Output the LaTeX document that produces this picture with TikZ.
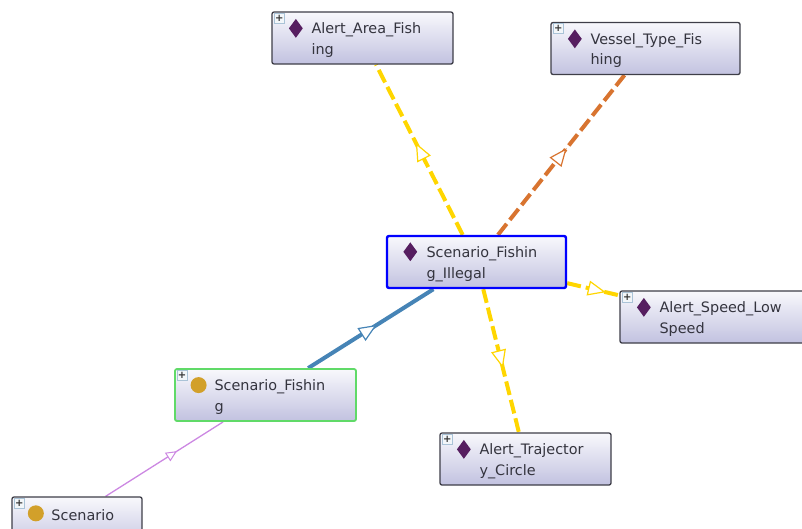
\documentclass[tikz,border=0pt]{standalone}
\usepackage{fontspec}
\setmainfont{DejaVu Sans}
\usetikzlibrary{arrows.meta,backgrounds,decorations.markings,shapes.geometric}
\definecolor{boxtop}{RGB}{248,248,252}
\definecolor{boxbottom}{RGB}{194,194,224}
\definecolor{boxline}{RGB}{62,62,72}
\definecolor{boxtext}{RGB}{52,52,62}
\definecolor{plusline}{RGB}{170,195,215}
\definecolor{indcolor}{RGB}{86,30,96}
\definecolor{classcolor}{RGB}{210,160,42}
\definecolor{greenline}{RGB}{96,218,104}
\definecolor{lineyellow}{RGB}{255,214,0}
\definecolor{lineorange}{RGB}{216,116,48}
\definecolor{lineblue}{RGB}{70,132,182}
\definecolor{linepurple}{RGB}{204,136,226}
\newcommand{\boxlines}[2]{\rule{0pt}{15pt}\hspace*{39.5pt}#1\\\hspace*{39.5pt}#2}
\tikzset{
  classbox/.style={rectangle,rounded corners=2pt,draw=boxline,line width=1.3pt,
    top color=boxtop,bottom color=boxbottom,text width=#1,inner xsep=0pt,inner ysep=0pt,
    minimum height=52pt,align=left,text=boxtext,font=\fontsize{14.4}{20.5}\selectfont},
  plusbox/.style={rectangle,draw=plusline,line width=0.8pt,fill=white!85!plusline,minimum size=10pt,inner sep=0pt,
    text=black!80,font=\fontsize{10}{10}\selectfont\bfseries},
  indicon/.style={diamond,fill=indcolor,minimum width=14pt,minimum height=19pt,inner sep=0pt},
  classicon/.style={circle,fill=classcolor,minimum size=16pt,inner sep=0pt},
  isa/.style={decoration={markings,mark=at position #1 with
    {\arrow{Triangle[open,fill=white,length=18pt,width=15pt,line width=1.2pt]}}},postaction={decorate}},
  isasmall/.style={decoration={markings,mark=at position #1 with
    {\arrow{Triangle[open,fill=white,length=11pt,width=10pt,line width=1pt]}}},postaction={decorate}},
  dashline/.style={line width=4pt,dash pattern=on 14pt off 5pt}
}
\begin{document}
\begin{tikzpicture}[x=1pt,y=-1pt]
\useasboundingbox (0,0) rectangle (802,528);
\clip (0,0) rectangle (802,528);
% boxes
\node[classbox=181pt] (AlertArea) at (362.5,38) {\boxlines{Alert\_Area\_Fish}{ing}};
\node[classbox=189pt] (VesselType) at (645.5,48.5) {\boxlines{Vessel\_Type\_Fis}{hing}};
\node[classbox=179pt,draw=blue,line width=2.4pt] (FishingIllegal) at (476.5,262) {\boxlines{Scenario\_Fishin}{g\_Illegal}};
\node[classbox=184pt] (AlertSpeed) at (712,317) {\boxlines{Alert\_Speed\_Low}{Speed}};
\node[classbox=171pt] (AlertTrajectory) at (525.5,459) {\boxlines{Alert\_Trajector}{y\_Circle}};
\node[classbox=181pt,draw=greenline,line width=1.8pt] (ScenarioFishing) at (265.5,395) {\boxlines{Scenario\_Fishin}{g}};
\node[classbox=130pt] (Scenario) at (77,523) {\boxlines{Scenario}{}};
% icons
\foreach \n in {AlertArea,VesselType,FishingIllegal,AlertSpeed,AlertTrajectory}
  \node[indicon] (\n-icon) at ([shift={(24.5,17)}]\n.north west) {};
\foreach \n in {ScenarioFishing,Scenario}
  \node[classicon] (\n-icon) at ([shift={(24.5,17)}]\n.north west) {};
\foreach \n in {AlertArea,VesselType,AlertSpeed,AlertTrajectory,ScenarioFishing,Scenario}
  \node[plusbox] (\n-plus) at ([shift={(8,7)}]\n.north west) {+};
% connectors
\begin{scope}[on background layer]
\draw[lineyellow,dashline,isa=0.54] (FishingIllegal)--(AlertArea);
\draw[lineorange,dashline,isa=0.543] (FishingIllegal)--(VesselType);
\draw[lineyellow,dashline,isa=0.74] (FishingIllegal)--(AlertSpeed);
\draw[lineyellow,dashline,isa=0.55] (FishingIllegal)--(AlertTrajectory);
\draw[lineblue,line width=4pt,isa=0.547] (ScenarioFishing)--(FishingIllegal);
\draw[linepurple,line width=1.3pt,isasmall=0.607] (Scenario.43)--(ScenarioFishing);
\end{scope}
\end{tikzpicture}
\end{document}
